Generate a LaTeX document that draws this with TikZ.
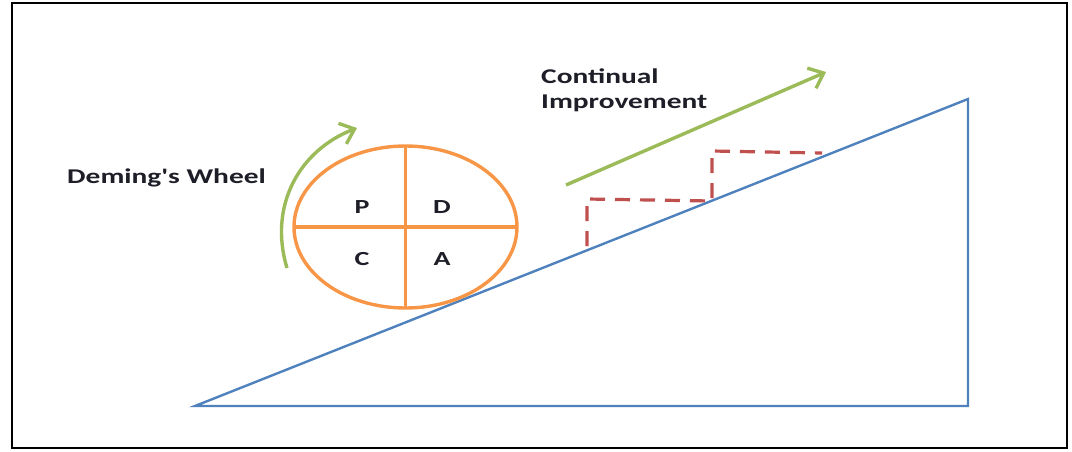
\documentclass[tikz,border=0pt]{standalone}
\usepackage{fontspec}
\setmainfont{Carlito}
\usepackage{graphicx}
\usetikzlibrary{arrows.meta}
\definecolor{wheelorange}{HTML}{F79646}
\definecolor{slopeblue}{HTML}{4F81BD}
\definecolor{arrowgreen}{HTML}{9BBB59}
\definecolor{stepred}{HTML}{C0504D}
\definecolor{labeltext}{HTML}{1E1E28}
\tikzset{
  lbl/.style={font=\fontsize{21}{25}\selectfont\bfseries, text=labeltext, inner sep=0pt},
  quad/.style={font=\fontsize{20}{24}\selectfont\bfseries, text=labeltext, inner sep=0pt, anchor=base},
  wheel/.style={draw=wheelorange, line width=3.4pt},
  slope/.style={draw=slopeblue, line width=2.4pt, line join=miter},
  growth/.style={draw=arrowgreen, line width=3.4pt, -{Straight Barb[length=13pt,width=22pt,line width=3.4pt]}},
  stairs/.style={draw=stepred, line width=3.2pt, dash pattern=on 15pt off 10pt},
}
\begin{document}
\begin{tikzpicture}[x=1pt,y=-1pt]
\useasboundingbox (0,0) rectangle (1072,451);
\draw[line width=2pt] (12,3) rectangle (1067,448);
% incline
\coordinate (bl) at (195,406);
\coordinate (br) at (968,406);
\coordinate (tp) at (968,99);
\draw[slope] (bl) -- (br) -- (tp) -- cycle;
% wheel
\coordinate (wc) at (405.5,227);
\draw[wheel] (wc) ellipse [x radius=111.5, y radius=81];
\draw[wheel] (405.5,146) -- (405.5,308);
\draw[wheel] (294,227) -- (517,227);
\node[quad] (p) at (362,213) {\scalebox{1.4}[1]{P}};
\node[quad] (d) at (442,213) {\scalebox{1.4}[1]{D}};
\node[quad] (c) at (362,265) {\scalebox{1.4}[1]{C}};
\node[quad] (a) at (442,265) {\scalebox{1.4}[1]{A}};
% wheel arrow
\coordinate (ws) at (287,268);
\coordinate (we) at (357,128);
\draw[growth] (ws) .. controls (268,205) and (300,150) .. (we);
% improvement arrow
\coordinate (is) at (566,185);
\coordinate (ie) at (826,72);
\draw[growth] (is) -- (ie);
% stairs
\coordinate (s0) at (587,246);
\coordinate (s1) at (587,199);
\coordinate (s2) at (712,201);
\coordinate (s3) at (712,151);
\coordinate (s4) at (822,153);
\draw[stairs] (s0) -- (s1) -- (s2) -- (s3) -- (s4);
% labels
\node[lbl, anchor=base west] (dw) at (67,183) {\scalebox{1.4}[1]{Deming\textquotesingle s Wheel}};
\node[lbl, anchor=base west] (ci1) at (541,83) {\scalebox{1.4}[1]{Continual}};
\node[lbl, anchor=base west] (ci2) at (541,108) {\scalebox{1.4}[1]{Improvement}};
\end{tikzpicture}
\end{document}
